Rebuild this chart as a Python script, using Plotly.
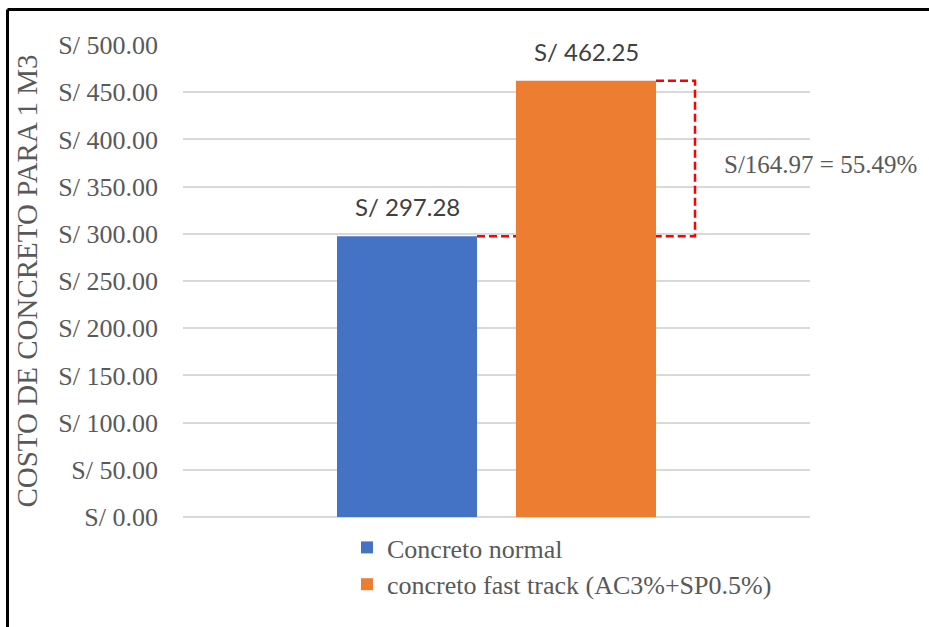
import plotly.graph_objects as go

# ---- data ----
series_names = ["Concreto normal", "concreto fast track (AC3%+SP0.5%)"]
costs = [297.28, 462.25]
colors = ["#4472C4", "#ED7D31"]
y_title = "COSTO DE CONCRETO PARA 1 M3"
y_ticks = [0, 50, 100, 150, 200, 250, 300, 350, 400, 450, 500]
y_ticktext = [f"S/ {v:.2f}" for v in y_ticks]

diff = costs[1] - costs[0]
pct = diff / costs[0] * 100
diff_label = f"S/{diff:.2f} = {pct:.2f}%"

# ---- layout geometry ----
W, H = 929, 627
L, R, T, B = 183, 119, 45, 110
pw, ph = W - L - R, H - T - B

bar_w = 140 / pw          # bar width in x-data units (range spans 1)
gap = 39 / pw             # gap between the two bars
bracket_ext = 39 / pw     # bracket horizontal extension
offsets = [-gap / 2 - bar_w, gap / 2]

def px_x(p):  # pixel -> paper x
    return (p - L) / pw

def px_y(p):  # pixel -> paper y
    return (H - B - p) / ph

grey = "#595959"
serif = "Liberation Serif, Times New Roman, serif"

fig = go.Figure()
for name, val, col, off in zip(series_names, costs, colors, offsets):
    fig.add_trace(go.Bar(
        x=[0], y=[val], name=name, marker=dict(color=col, line=dict(width=0)),
        width=bar_w, offset=off, hoverinfo="skip",
    ))

# data labels
for val, off in zip(costs, offsets):
    fig.add_annotation(
        x=off + bar_w / 2, y=val, xref="x", yref="y",
        text=f"S/ {val:.2f}", showarrow=False, yanchor="bottom", yshift=13,
        font=dict(family="Lato, Liberation Sans, sans-serif", size=24, color="#404040"),
    )

# red dashed connectors
red = dict(color="#FF0000", width=2.5, dash="8px,4px")
blue_right = offsets[0] + bar_w
orange_left = offsets[1]
orange_right = offsets[1] + bar_w
bx = orange_right + bracket_ext
fig.add_shape(type="line", xref="x", yref="y", x0=blue_right, x1=orange_left,
              y0=costs[0], y1=costs[0], line=red)
fig.add_shape(type="path", xref="x", yref="y",
              path=f"M {orange_right},{costs[1]} L {bx},{costs[1]} L {bx},{costs[0]} L {orange_right},{costs[0]}",
              line=red)

fig.add_annotation(
    x=bx, y=(costs[0] + costs[1]) / 2, xref="x", yref="y", xanchor="left", yanchor="middle",
    xshift=27, yshift=-6, text=diff_label, showarrow=False,
    font=dict(family=serif, size=25, color=grey),
)

# outer frame (top & left edges only visible)
frame = dict(color="#000000", width=3)
fig.add_shape(type="line", xref="paper", yref="paper", x0=px_x(7.5), x1=px_x(W + 40),
              y0=px_y(9.5), y1=px_y(9.5), line=frame)
fig.add_shape(type="line", xref="paper", yref="paper", x0=px_x(7.5), x1=px_x(7.5),
              y0=px_y(9.5), y1=px_y(H + 40), line=frame)

fig.update_layout(
    width=W, height=H,
    margin=dict(l=L, r=R, t=T, b=B, autoexpand=False),
    paper_bgcolor="white", plot_bgcolor="white",
    barmode="overlay",
    showlegend=True,
    legend=dict(
        orientation="v", x=px_x(347), y=px_y(524), xanchor="left", yanchor="top",
        font=dict(family=serif, size=26, color=grey), bgcolor="rgba(0,0,0,0)",
        itemclick=False, itemdoubleclick=False,
    ),
    xaxis=dict(range=[-0.5, 0.5], showticklabels=False, showgrid=False,
               zeroline=False, showline=False, fixedrange=True),
    yaxis=dict(
        range=[0, 500], tickmode="array", tickvals=y_ticks, ticktext=y_ticktext,
        showgrid=True, gridcolor="#D9D9D9", gridwidth=1.5,
        zeroline=True, zerolinecolor="#D9D9D9", zerolinewidth=1.5,
        showline=False, ticks="", ticklabelstandoff=24,
        tickfont=dict(family=serif, size=26, color=grey),
        title=dict(text=y_title, standoff=12, font=dict(family=serif, size=29, color=grey)),
        automargin=False,
    ),
)

fig.write_html(
    "out.html",
    config={"displayModeBar": False},
    post_script="document.body.style.margin='0';document.body.style.overflow='hidden';",
)
